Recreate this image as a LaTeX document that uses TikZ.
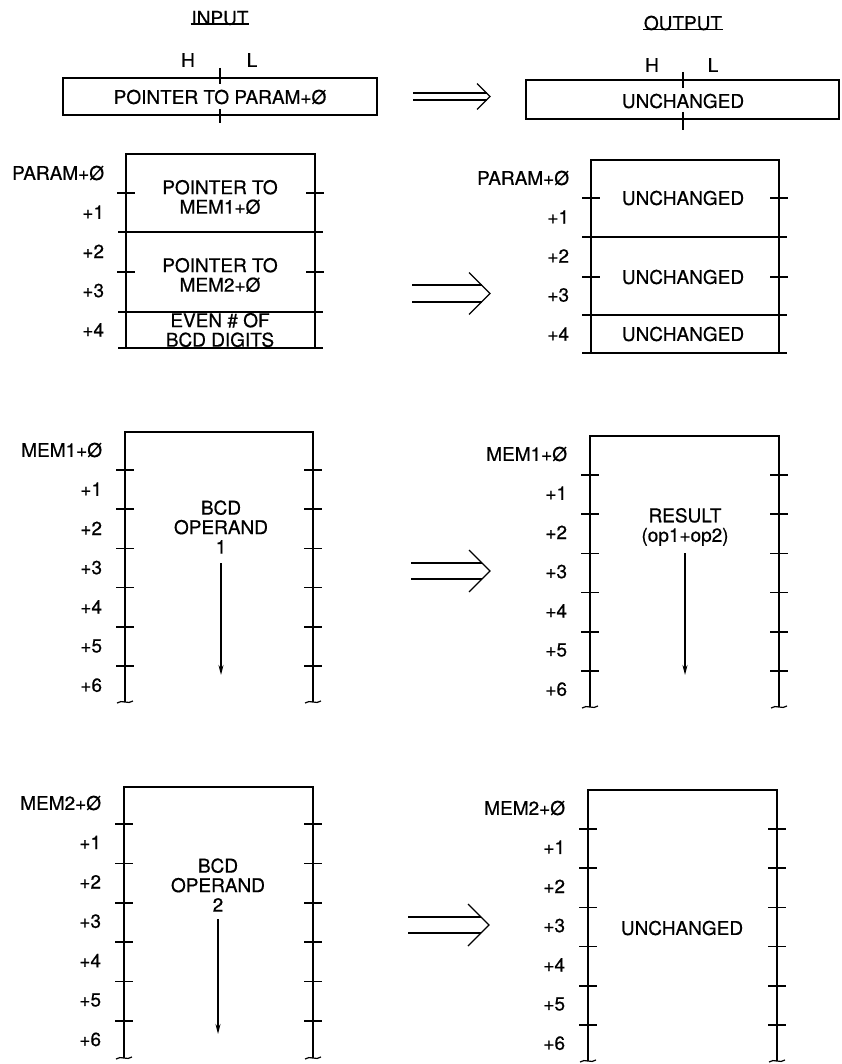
\documentclass[tikz,border=0pt]{standalone}
\usepackage{fontspec}
\setmainfont{TeX Gyre Heros}[FakeBold=0.6]
\usetikzlibrary{arrows.meta}

\begin{document}
\begin{tikzpicture}[x=1pt,y=1pt,yscale=-1,
  memline/.style={line width=1.8pt},
  tickline/.style={line width=1.5pt},
  thinline/.style={line width=1.2pt},
  lbl/.style={inner sep=0.75pt,font=\fontsize{19}{19.5}\selectfont},
  addr/.style={lbl,anchor=east},
  txt/.style={lbl,align=center},
  downarr/.style={line width=1.4pt,-{Stealth[length=10pt,width=5pt]}}]
\useasboundingbox (0,0) rectangle (842,1064);

% Text Node
\draw (220,18) node [lbl] (inhead) {INPUT};
\draw [thinline] ([yshift=-2pt]inhead.south west) -- ([yshift=-2pt]inhead.south east);
% Text Node
\draw (683,23) node [lbl] (outhead) {OUTPUT};
\draw [thinline] ([yshift=-2pt]outhead.south west) -- ([yshift=-2pt]outhead.south east);

%Shape: Rectangle (input pointer)
\draw [memline] (63,78) rectangle (377,115);
\draw [tickline] (220,68) -- (220,84);
\draw [tickline] (220,109) -- (220,123);
\draw (188,60) node [lbl] (inH) {H};
\draw (252,60) node [lbl] (inL) {L};
\draw (220,97) node [lbl] (inptr) {POINTER TO PARAM+Ø};

%Shape: Rectangle (output pointer)
\draw [memline] (526,80) rectangle (839,119);
\draw [tickline] (683,72) -- (683,88);
\draw [tickline] (683,112) -- (683,130);
\draw (652,65) node [lbl] (outH) {H};
\draw (713,65) node [lbl] (outL) {L};
\draw (683,101) node [lbl] (outptr) {UNCHANGED};

%Double arrows
\foreach \xa/\xb/\y/\d/\w [count=\n] in {413/490/96.5/3.5/13, 412/490/293.5/8.5/21, 411/490/571/8/21, 408/489/925/8/21}{
  \coordinate (dbl\n) at (\xb,\y);
  \draw [thinline] (\xa,{\y-\d}) -- ({\xb-\d},{\y-\d});
  \draw [thinline] (\xa,{\y+\d}) -- ({\xb-\d},{\y+\d});
  \draw [thinline] ({\xb-\w},{\y-\w}) -- (dbl\n) -- ({\xb-\w},{\y+\w});
}

%Shape: PARAM block (input)
\draw [memline] (126,348) -- (126,154) -- (315,154) -- (315,348);
\draw [memline] (118,232) -- (323,232);
\draw [memline] (118,312) -- (323,312);
\draw [memline] (118,348) -- (323,348);
\foreach \y in {193,272}{
  \draw [tickline] (117,\y) -- (135,\y);
  \draw [tickline] (306,\y) -- (324,\y);
}
\foreach \t [count=\i from 0] in {PARAM+Ø,+1,+2,+3,+4}
  \draw (105,{173+39.2*\i}) node [addr] (inpar\i) {\t};
\draw (220,197) node [txt] (inptr1) {POINTER TO\\MEM1+Ø};
\draw (220,275) node [txt] (inptr2) {POINTER TO\\MEM2+Ø};
\draw (220,330) node [txt] (indig) {EVEN \# OF\\BCD DIGITS};

%Shape: PARAM block (output)
\draw [memline] (591,353) -- (591,160) -- (779,160) -- (779,353);
\draw [memline] (582,237) -- (787,237);
\draw [memline] (582,315) -- (787,315);
\draw [memline] (582,353) -- (787,353);
\foreach \y in {198,277}{
  \draw [tickline] (582,\y) -- (600,\y);
  \draw [tickline] (770,\y) -- (788,\y);
}
\foreach \t [count=\i from 0] in {PARAM+Ø,+1,+2,+3,+4}
  \draw (570,{178+39*\i}) node [addr] (outpar\i) {\t};
\draw (683,198) node [lbl] (outptr1) {UNCHANGED};
\draw (683,277) node [lbl] (outptr2) {UNCHANGED};
\draw (683,334) node [lbl] (outdig) {UNCHANGED};

%Shape: MEM1 block (input)
\draw [memline] (125,702) -- (125,432) -- (313,432) -- (313,702);
\foreach \i in {0,...,5}{
  \draw [tickline] (116,{470+39.2*\i}) -- (134,{470+39.2*\i});
  \draw [tickline] (304,{470+39.2*\i}) -- (322,{470+39.2*\i});
}
\foreach \x in {125,313}
  \draw [thinline] ({\x-8},703) .. controls ({\x-3},699) and ({\x+3},705) .. ({\x+8},701);
\foreach \t [count=\i from 0] in {MEM1+Ø,+1,+2,+3,+4,+5,+6}
  \draw (103,{450+39.2*\i}) node [addr] (inmema\i) {\t};
\draw (221,527) node [txt] (inop1) {BCD\\OPERAND\\1};
\coordinate (inop1e) at (221,675);
\draw [downarr] (221,563) -- (inop1e);

%Shape: MEM1 block (output)
\draw [memline] (590,707) -- (590,436) -- (779,436) -- (779,707);
\foreach \i in {0,...,5}{
  \draw [tickline] (581,{475+39.2*\i}) -- (599,{475+39.2*\i});
  \draw [tickline] (770,{475+39.2*\i}) -- (788,{475+39.2*\i});
}
\foreach \x in {590,779}
  \draw [thinline] ({\x-8},708) .. controls ({\x-3},704) and ({\x+3},710) .. ({\x+8},706);
\foreach \t [count=\i from 0] in {MEM1+Ø,+1,+2,+3,+4,+5,+6}
  \draw (568,{454+39.2*\i}) node [addr] (outmema\i) {\t};
\draw (685,527) node [txt] (outres) {RESULT\\(op1+op2)};
\coordinate (outrese) at (685,675);
\draw [downarr] (685,553) -- (outrese);

%Shape: MEM2 block (input)
\draw [memline] (124,1058) -- (124,787) -- (313,787) -- (313,1058);
\foreach \i in {0,...,5}{
  \draw [tickline] (115,{824+39.4*\i}) -- (133,{824+39.4*\i});
  \draw [tickline] (304,{824+39.4*\i}) -- (322,{824+39.4*\i});
}
\foreach \x in {124,313}
  \draw [thinline] ({\x-8},1059) .. controls ({\x-3},1055) and ({\x+3},1061) .. ({\x+8},1057);
\foreach \t [count=\i from 0] in {MEM2+Ø,+1,+2,+3,+4,+5,+6}
  \draw (102,{803+39.4*\i}) node [addr] (inmemb\i) {\t};
\draw (218,885) node [txt] (inop2) {BCD\\OPERAND\\2};
\coordinate (inop2e) at (218,1034);
\draw [downarr] (218,919) -- (inop2e);

%Shape: MEM2 block (output)
\draw [memline] (588,1061) -- (588,790) -- (777,790) -- (777,1061);
\foreach \i in {0,...,5}{
  \draw [tickline] (579,{829+39.2*\i}) -- (597,{829+39.2*\i});
  \draw [tickline] (768,{829+39.2*\i}) -- (786,{829+39.2*\i});
}
\foreach \x in {588,777}
  \draw [thinline] ({\x-8},1062) .. controls ({\x-3},1058) and ({\x+3},1064) .. ({\x+8},1060);
\foreach \t [count=\i from 0] in {MEM2+Ø,+1,+2,+3,+4,+5,+6}
  \draw (566,{808+39.2*\i}) node [addr] (outmemb\i) {\t};
\draw (682,928) node [lbl] (outunch) {UNCHANGED};

\end{tikzpicture}
\end{document}
